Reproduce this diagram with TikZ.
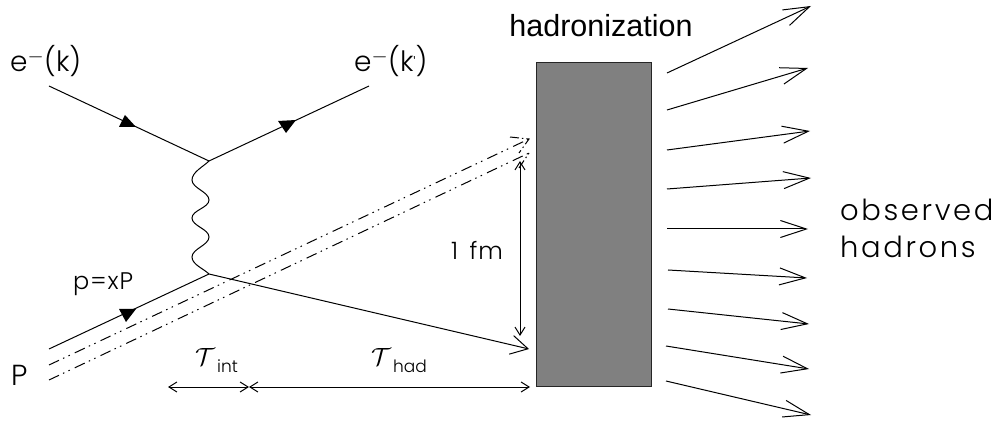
\documentclass[tikz,border=0pt]{standalone}
\usepackage{fontspec}
\setmainfont{Liberation Sans}
\newfontfamily\handfont[LetterSpace=9,UprightFont=* Light]{Poppins}
\newfontfamily\handtight[UprightFont=* Light]{Poppins}
\newfontfamily\handmidf[LetterSpace=4,UprightFont=* Light]{Poppins}
\usetikzlibrary{arrows.meta}
\definecolor{boxgray}{HTML}{808080}
\tikzset{
  line/.style={line width=1pt,black},
  hadron/.style={line,-{Straight Barb[length=26pt,width=17pt,line width=1pt]}},
  smallhead/.style={line,{Straight Barb[length=8pt,width=10pt,line width=1pt]}-{Straight Barb[length=8pt,width=10pt,line width=1pt]}},
  ddot/.style={line width=1pt,dash pattern=on 11pt off 4.5pt on 1.5pt off 4.5pt on 1.5pt off 5.5pt},
  headdash/.style={line width=1pt,dash pattern=on 9pt off 3pt on 1.5pt off 3pt},
  tri/.style={fill=black,draw=none},
  hand/.style={font=\handfont\fontsize{29}{32}\selectfont,inner sep=0pt,align=left},
  handel/.style={font=\handtight\fontsize{28}{32}\selectfont,inner sep=0pt},
  handmid/.style={font=\handmidf\fontsize{24}{26}\selectfont,inner sep=0pt},
  tau/.style={inner sep=0pt,font=\fontsize{30}{32}\selectfont},
  sub/.style={font=\handtight\fontsize{17}{20}\selectfont,inner sep=0pt},
}
\begin{document}
\begin{tikzpicture}[x=1pt,y=-1pt]
\useasboundingbox (0,0) rectangle (997,422);
% electron vertex
\coordinate (ein) at (49,86);
\coordinate (eout) at (369,86);
\coordinate (v1) at (209,161);
\coordinate (pin) at (49,349);
\coordinate (v2) at (209,274);
\draw[line] (ein) -- (v1) -- (eout);
\draw[line] (pin) -- (v2);
\fill[tri] (119,127) -- (136,127) -- (125,115) -- cycle;
\fill[tri] (278,121) -- (296,120) -- (286,133) -- cycle;
\fill[tri] (119,309) -- (136,309) -- (126,322) -- cycle;
% photon
\coordinate (w1) at (192,180);
\coordinate (w2) at (209,200);
\coordinate (w3) at (192,218);
\coordinate (w4) at (209,237);
\coordinate (w5) at (192,257);
\draw[line] (v1) to[out=225,in=90,looseness=0.8] (w1)
  to[out=-90,in=90,looseness=0.8] (w2)
  to[out=-90,in=90,looseness=0.8] (w3)
  to[out=-90,in=90,looseness=0.8] (w4)
  to[out=-90,in=90,looseness=0.8] (w5)
  to[out=-90,in=135,looseness=0.8] (v2);
% spectators
\coordinate (s1a) at (49,365);
\coordinate (s1b) at (529,139);
\coordinate (s2a) at (49,380);
\coordinate (s2b) at (529,153);
\coordinate (h1a) at (510,137);
\coordinate (h1b) at (519,153);
\coordinate (h2b) at (519,168);
\draw[ddot] (s1a) -- (s1b);
\draw[ddot] (s2a) -- (s2b);
\draw[headdash] (h1a) -- (s1b) -- (h1b);
\draw[headdash] (h2b) -- (s2b);
% struck quark
\coordinate (q) at (529,349);
\draw[line,-{Straight Barb[length=17pt,width=19pt,line width=1pt]}] (v2) -- (q);
% box
\node[draw=black!85,line width=1pt,fill=boxgray,minimum width=115pt,minimum height=324pt,inner sep=0pt,anchor=north west] (box) at (536,62) {};
\node[inner sep=0pt,font=\fontsize{30.5}{32}\selectfont,anchor=base] (hadlabel) at (601,37) {hadronization};
% 1 fm
\coordinate (fa) at (520,161);
\coordinate (fb) at (520,336);
\draw[smallhead] (fa) -- (fb);
\node[handmid,anchor=base west] (fm) at (451,260) {1 \,fm};
% tau
\coordinate (ta) at (168,387);
\coordinate (tb) at (249,387);
\coordinate (tc) at (530,387);
\draw[smallhead] (ta) -- (tb);
\draw[smallhead] (tb) -- (tc);
\node[tau] (t1) at (205,357) {$\mathcal{T}$};
\node[sub,anchor=base west] (t1s) at (217,372) {int};
\node[tau] (t2) at (381,357) {$\mathcal{T}$};
\node[sub,anchor=base west] (t2s) at (393,372) {had};
% outgoing hadrons
\foreach \n/\xa/\ya/\xb/\yb in {1/667/73/811/6,2/667/110/808/68,3/667/150/810/131,4/667/189/811/178,5/667/229/808/229,6/668/270/807/278,7/668/309/809/324,8/666/346/809/369,9/666/381/811/415}{
  \coordinate (a\n) at (\xa,\ya);
  \coordinate (b\n) at (\xb,\yb);
  \draw[hadron] (a\n) -- (b\n);
}
% labels
\node[handel,anchor=base west] (lein) at (10,72) {e$^{-}$(k)};
\node[handel,anchor=base west] (leout) at (354,72) {e$^{-}$(k\raisebox{3pt}{\fontsize{15}{15}\selectfont'})};
\node[handmid,anchor=base west] (lp) at (73,290) {p=xP};
\node[hand,anchor=base west] (lP) at (11,385) {P};
\node[hand,anchor=base west] (lobs) at (840,221) {observed};
\node[hand,anchor=base west] (lhad) at (840,258) {hadrons};
\end{tikzpicture}
\end{document}
